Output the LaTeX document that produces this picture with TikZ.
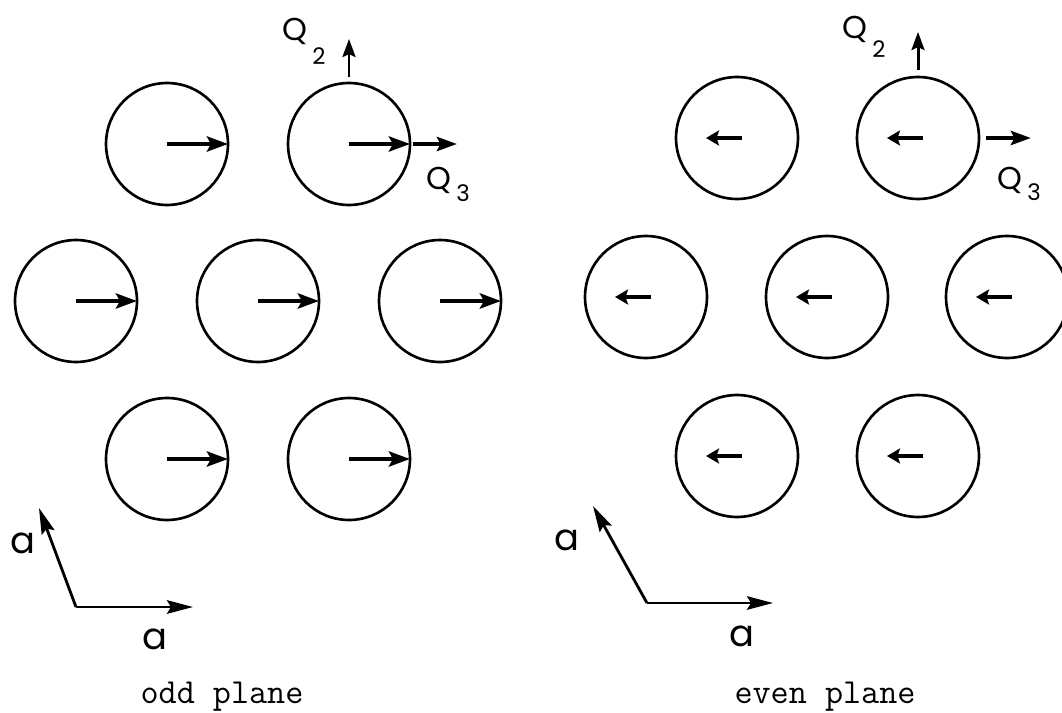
\documentclass[tikz,border=0pt]{standalone}
\usepackage{fontspec}
\usetikzlibrary{arrows.meta}
\newfontfamily\plotfont{Poppins}
% Q with a lowered index
\newcommand{\Qlab}[2]{Q\kern0.1cm\raisebox{#2}{\fontsize{13}{13}\selectfont #1}}

\begin{document}
\begin{tikzpicture}[x=0.02cm,y=-0.02cm,
  atom/.style={circle,draw,line width=1.5pt,minimum size=2.44cm,inner sep=0pt,outer sep=0pt},
  spin/.style={line width=2.8pt,-{Stealth[length=0.42cm,width=0.3cm,inset=0.08cm]}},
  spinback/.style={line width=2.8pt,-{Stealth[length=0.26cm,width=0.3cm,inset=0.05cm]}},
  wave/.style={line width=1.7pt,-{Stealth[length=0.36cm,width=0.26cm,inset=0.06cm]}},
  wavebold/.style={line width=2.6pt,-{Stealth[length=0.4cm,width=0.28cm,inset=0.07cm]}},
  axis/.style={line width=1.6pt,-{Stealth[length=0.52cm,width=0.27cm,inset=0.08cm]}},
  lab/.style={font=\plotfont\fontsize{18}{18}\selectfont,inner sep=0pt},
  vec/.style={font=\plotfont\fontsize{21}{21}\selectfont,inner sep=0pt},
  planecap/.style={font=\ttfamily\fontsize{20}{20}\selectfont,inner sep=0pt}]
  \useasboundingbox (0,0) rectangle (1062,713);

  % odd plane
  \foreach \n/\x/\y in {a/167/144, b/349/144, c/76/301, d/258/301, e/440/301, f/167/459, g/349/459} {
    \node[atom] (o\n) at (\x,\y) {};
    \draw[spin] (o\n.center) -- (o\n.east);
  }
  \coordinate (oq2) at ([yshift=0.88cm]ob.north);
  \coordinate (oq3) at ([xshift=0.94cm]ob.east);
  \draw[wave] ([yshift=0.12cm]ob.north) -- (oq2);
  \draw[wavebold] ([xshift=0.06cm]ob.east) -- (oq3);
  \node[lab,anchor=base west] (oQ2) at (282,41) {\Qlab{2}{-0.48cm}};
  \node[lab,anchor=base west] (oQ3) at (426,190) {\Qlab{3}{-0.24cm}};

  \coordinate (oo) at (76,607);
  \coordinate (oa1) at (193,607);
  \coordinate (oa2) at (39,508);
  \draw[axis] (oo) -- (oa1);
  \draw[axis] (oo) -- (oa2);
  \node[vec] (oa1lab) at (155,639) {a};
  \node[vec] (oa2lab) at (23,543) {a};
  \node[planecap,anchor=base] (oddcap) at (222,703) {odd plane};

  % even plane
  \foreach \n/\x/\y in {a/737/138, b/918/138, c/646/297, d/827/297, e/1007/297, f/737/456, g/918/456} {
    \node[atom] (e\n) at (\x,\y) {};
    \draw[spinback] ([xshift=0.1cm]e\n.center) -- ([xshift=-0.62cm]e\n.center);
  }
  \coordinate (eq2) at ([yshift=0.9cm]eb.north);
  \coordinate (eq3) at ([xshift=1.04cm]eb.east);
  \draw[wave] ([yshift=0.14cm]eb.north) -- (eq2);
  \draw[wavebold] ([xshift=0.14cm]eb.east) -- (eq3);
  \node[lab,anchor=base west] (eQ2) at (842,39) {\Qlab{2}{-0.38cm}};
  \node[lab,anchor=base west] (eQ3) at (997,190) {\Qlab{3}{-0.22cm}};

  \coordinate (eo) at (647,603);
  \coordinate (ea1) at (773,603);
  \coordinate (ea2) at (593,506);
  \draw[axis] (eo) -- (ea1);
  \draw[axis] (eo) -- (ea2);
  \node[vec] (ea1lab) at (742,636) {a};
  \node[vec] (ea2lab) at (567,540) {a};
  \node[planecap,anchor=base] (evencap) at (825,703) {even plane};
\end{tikzpicture}
\end{document}
